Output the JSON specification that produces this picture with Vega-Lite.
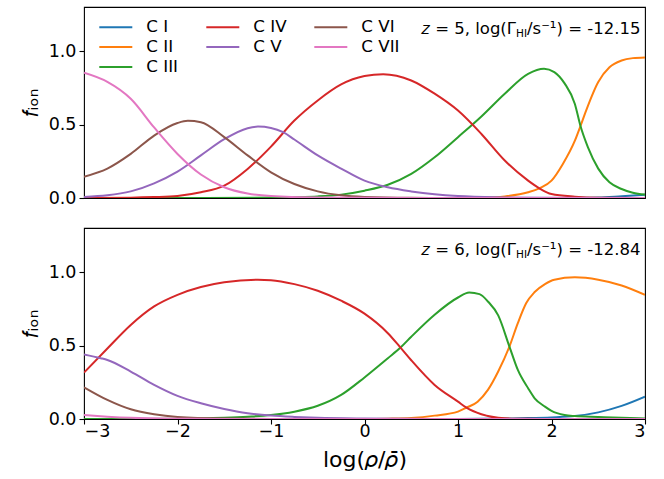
{
  "$schema": "https://vega.github.io/schema/vega-lite/v6.json",
  "padding": {"left": 18, "top": 6, "right": 12, "bottom": 5},
  "spacing": 19,
  "config": {
    "font": "DejaVu Sans",
    "view": {"stroke": "black", "strokeWidth": 1.1},
    "axis": {
      "labelFont": "DejaVu Sans", "labelFontSize": 17.5, "labelColor": "black",
      "tickColor": "black", "tickSize": 5, "tickWidth": 1.1, "domain": false, "grid": false,
      "titleFont": "DejaVu Sans", "titleFontSize": 22, "titleFontWeight": "normal", "titleColor": "black",
      "labelPadding": 3
    },
    "legend": {
      "orient": "none", "legendX": 20.8, "legendY": 9, "columns": 3, "direction": "horizontal",
      "symbolType": "M-1.65,0H1.65", "symbolSize": 400,
      "symbolStrokeWidth": 2, "labelFontSize": 16.7, "labelFont": "DejaVu Sans", "labelColor": "black",
      "labelOffset": 19.5, "columnPadding": 23, "rowPadding": 0, "offset": 0, "padding": 0
    },
    "text": {"font": "DejaVu Sans", "color": "black"}
  },
  "datasets": {
    "z5": [
      {"x": -3, "f": 0, "ion": "C I"}, {"x": -2, "f": 0, "ion": "C I"}, {"x": -1, "f": 0, "ion": "C I"}, {"x": 0, "f": 0, "ion": "C I"}, {"x": 1, "f": 0, "ion": "C I"}, {"x": 2, "f": 0, "ion": "C I"}, {"x": 2.25, "f": 0.001, "ion": "C I"}, {"x": 2.5, "f": 0.003, "ion": "C I"}, {"x": 2.75, "f": 0.012, "ion": "C I"}, {"x": 3, "f": 0.022, "ion": "C I"},
      {"x": -3, "f": 0, "ion": "C II"}, {"x": -1, "f": 0, "ion": "C II"}, {"x": 1, "f": 0, "ion": "C II"}, {"x": 1.25, "f": 0.002, "ion": "C II"}, {"x": 1.5, "f": 0.011, "ion": "C II"}, {"x": 1.75, "f": 0.039, "ion": "C II"}, {"x": 1.87, "f": 0.066, "ion": "C II"}, {"x": 2.0, "f": 0.118, "ion": "C II"}, {"x": 2.12, "f": 0.23, "ion": "C II"}, {"x": 2.25, "f": 0.39, "ion": "C II"}, {"x": 2.31, "f": 0.49, "ion": "C II"}, {"x": 2.37, "f": 0.595, "ion": "C II"}, {"x": 2.5, "f": 0.79, "ion": "C II"}, {"x": 2.62, "f": 0.89, "ion": "C II"}, {"x": 2.75, "f": 0.936, "ion": "C II"}, {"x": 2.87, "f": 0.952, "ion": "C II"}, {"x": 3, "f": 0.957, "ion": "C II"},
      {"x": -3, "f": 0, "ion": "C III"}, {"x": -2, "f": 0, "ion": "C III"}, {"x": -1, "f": 0.003, "ion": "C III"}, {"x": -0.75, "f": 0.006, "ion": "C III"}, {"x": -0.5, "f": 0.011, "ion": "C III"}, {"x": -0.25, "f": 0.023, "ion": "C III"}, {"x": 0, "f": 0.05, "ion": "C III"}, {"x": 0.25, "f": 0.09, "ion": "C III"}, {"x": 0.5, "f": 0.164, "ion": "C III"}, {"x": 0.75, "f": 0.277, "ion": "C III"}, {"x": 1.0, "f": 0.414, "ion": "C III"}, {"x": 1.25, "f": 0.555, "ion": "C III"}, {"x": 1.5, "f": 0.71, "ion": "C III"}, {"x": 1.75, "f": 0.845, "ion": "C III"}, {"x": 1.92, "f": 0.88, "ion": "C III"}, {"x": 2.03, "f": 0.857, "ion": "C III"}, {"x": 2.14, "f": 0.78, "ion": "C III"}, {"x": 2.25, "f": 0.64, "ion": "C III"}, {"x": 2.31, "f": 0.49, "ion": "C III"}, {"x": 2.39, "f": 0.345, "ion": "C III"}, {"x": 2.5, "f": 0.2, "ion": "C III"}, {"x": 2.62, "f": 0.107, "ion": "C III"}, {"x": 2.75, "f": 0.061, "ion": "C III"}, {"x": 2.87, "f": 0.036, "ion": "C III"}, {"x": 3, "f": 0.023, "ion": "C III"},
      {"x": -3, "f": 0, "ion": "C IV"}, {"x": -2.5, "f": 0.002, "ion": "C IV"}, {"x": -2.25, "f": 0.006, "ion": "C IV"}, {"x": -2.0, "f": 0.014, "ion": "C IV"}, {"x": -1.75, "f": 0.039, "ion": "C IV"}, {"x": -1.5, "f": 0.084, "ion": "C IV"}, {"x": -1.25, "f": 0.198, "ion": "C IV"}, {"x": -1.0, "f": 0.35, "ion": "C IV"}, {"x": -0.75, "f": 0.527, "ion": "C IV"}, {"x": -0.5, "f": 0.664, "ion": "C IV"}, {"x": -0.25, "f": 0.773, "ion": "C IV"}, {"x": 0, "f": 0.83, "ion": "C IV"}, {"x": 0.2, "f": 0.843, "ion": "C IV"}, {"x": 0.5, "f": 0.8, "ion": "C IV"}, {"x": 0.75, "f": 0.71, "ion": "C IV"}, {"x": 1.0, "f": 0.595, "ion": "C IV"}, {"x": 1.25, "f": 0.436, "ion": "C IV"}, {"x": 1.5, "f": 0.255, "ion": "C IV"}, {"x": 1.75, "f": 0.118, "ion": "C IV"}, {"x": 1.87, "f": 0.066, "ion": "C IV"}, {"x": 2.0, "f": 0.027, "ion": "C IV"}, {"x": 2.25, "f": 0.009, "ion": "C IV"}, {"x": 2.5, "f": 0.002, "ion": "C IV"}, {"x": 3, "f": 0, "ion": "C IV"},
      {"x": -3, "f": 0.007, "ion": "C V"}, {"x": -2.75, "f": 0.018, "ion": "C V"}, {"x": -2.5, "f": 0.045, "ion": "C V"}, {"x": -2.25, "f": 0.1, "ion": "C V"}, {"x": -2.0, "f": 0.18, "ion": "C V"}, {"x": -1.75, "f": 0.29, "ion": "C V"}, {"x": -1.5, "f": 0.4, "ion": "C V"}, {"x": -1.25, "f": 0.475, "ion": "C V"}, {"x": -1.14, "f": 0.486, "ion": "C V"}, {"x": -1.0, "f": 0.477, "ion": "C V"}, {"x": -0.87, "f": 0.448, "ion": "C V"}, {"x": -0.75, "f": 0.398, "ion": "C V"}, {"x": -0.5, "f": 0.29, "ion": "C V"}, {"x": -0.25, "f": 0.2, "ion": "C V"}, {"x": 0, "f": 0.118, "ion": "C V"}, {"x": 0.25, "f": 0.073, "ion": "C V"}, {"x": 0.5, "f": 0.045, "ion": "C V"}, {"x": 0.75, "f": 0.025, "ion": "C V"}, {"x": 1.0, "f": 0.013, "ion": "C V"}, {"x": 1.5, "f": 0.004, "ion": "C V"}, {"x": 2, "f": 0.001, "ion": "C V"}, {"x": 3, "f": 0, "ion": "C V"},
      {"x": -3, "f": 0.145, "ion": "C VI"}, {"x": -2.75, "f": 0.2, "ion": "C VI"}, {"x": -2.5, "f": 0.3, "ion": "C VI"}, {"x": -2.25, "f": 0.425, "ion": "C VI"}, {"x": -2.0, "f": 0.51, "ion": "C VI"}, {"x": -1.89, "f": 0.525, "ion": "C VI"}, {"x": -1.75, "f": 0.516, "ion": "C VI"}, {"x": -1.5, "f": 0.414, "ion": "C VI"}, {"x": -1.25, "f": 0.29, "ion": "C VI"}, {"x": -1.0, "f": 0.175, "ion": "C VI"}, {"x": -0.75, "f": 0.095, "ion": "C VI"}, {"x": -0.5, "f": 0.045, "ion": "C VI"}, {"x": -0.25, "f": 0.018, "ion": "C VI"}, {"x": 0, "f": 0.007, "ion": "C VI"}, {"x": 0.5, "f": 0.001, "ion": "C VI"}, {"x": 1, "f": 0, "ion": "C VI"}, {"x": 3, "f": 0, "ion": "C VI"},
      {"x": -3, "f": 0.852, "ion": "C VII"}, {"x": -2.75, "f": 0.79, "ion": "C VII"}, {"x": -2.5, "f": 0.675, "ion": "C VII"}, {"x": -2.25, "f": 0.48, "ion": "C VII"}, {"x": -2.0, "f": 0.3, "ion": "C VII"}, {"x": -1.75, "f": 0.16, "ion": "C VII"}, {"x": -1.5, "f": 0.073, "ion": "C VII"}, {"x": -1.25, "f": 0.03, "ion": "C VII"}, {"x": -1.0, "f": 0.013, "ion": "C VII"}, {"x": -0.5, "f": 0.003, "ion": "C VII"}, {"x": 0, "f": 0.001, "ion": "C VII"}, {"x": 1, "f": 0, "ion": "C VII"}, {"x": 3, "f": 0, "ion": "C VII"}
    ],
    "z6": [
      {"x": -3, "f": 0, "ion": "C I"}, {"x": -1, "f": 0, "ion": "C I"}, {"x": 1, "f": 0, "ion": "C I"}, {"x": 1.5, "f": 0.003, "ion": "C I"}, {"x": 1.75, "f": 0.006, "ion": "C I"}, {"x": 2.0, "f": 0.011, "ion": "C I"}, {"x": 2.25, "f": 0.02, "ion": "C I"}, {"x": 2.5, "f": 0.045, "ion": "C I"}, {"x": 2.75, "f": 0.089, "ion": "C I"}, {"x": 3, "f": 0.152, "ion": "C I"},
      {"x": -3, "f": 0, "ion": "C II"}, {"x": -1, "f": 0, "ion": "C II"}, {"x": 0, "f": 0, "ion": "C II"}, {"x": 0.25, "f": 0.002, "ion": "C II"}, {"x": 0.5, "f": 0.007, "ion": "C II"}, {"x": 0.75, "f": 0.023, "ion": "C II"}, {"x": 1.0, "f": 0.05, "ion": "C II"}, {"x": 1.09, "f": 0.077, "ion": "C II"}, {"x": 1.21, "f": 0.118, "ion": "C II"}, {"x": 1.32, "f": 0.198, "ion": "C II"}, {"x": 1.43, "f": 0.323, "ion": "C II"}, {"x": 1.55, "f": 0.493, "ion": "C II"}, {"x": 1.64, "f": 0.652, "ion": "C II"}, {"x": 1.73, "f": 0.789, "ion": "C II"}, {"x": 1.82, "f": 0.864, "ion": "C II"}, {"x": 1.93, "f": 0.918, "ion": "C II"}, {"x": 2.03, "f": 0.948, "ion": "C II"}, {"x": 2.25, "f": 0.964, "ion": "C II"}, {"x": 2.5, "f": 0.948, "ion": "C II"}, {"x": 2.75, "f": 0.909, "ion": "C II"}, {"x": 3, "f": 0.845, "ion": "C II"},
      {"x": -3, "f": 0, "ion": "C III"}, {"x": -2.5, "f": 0.0005, "ion": "C III"}, {"x": -2, "f": 0.002, "ion": "C III"}, {"x": -1.5, "f": 0.009, "ion": "C III"}, {"x": -1.25, "f": 0.016, "ion": "C III"}, {"x": -1.0, "f": 0.027, "ion": "C III"}, {"x": -0.75, "f": 0.05, "ion": "C III"}, {"x": -0.5, "f": 0.09, "ion": "C III"}, {"x": -0.25, "f": 0.164, "ion": "C III"}, {"x": 0, "f": 0.283, "ion": "C III"}, {"x": 0.25, "f": 0.414, "ion": "C III"}, {"x": 0.385, "f": 0.486, "ion": "C III"}, {"x": 0.5, "f": 0.56, "ion": "C III"}, {"x": 0.75, "f": 0.71, "ion": "C III"}, {"x": 1.0, "f": 0.827, "ion": "C III"}, {"x": 1.12, "f": 0.861, "ion": "C III"}, {"x": 1.23, "f": 0.85, "ion": "C III"}, {"x": 1.32, "f": 0.8, "ion": "C III"}, {"x": 1.43, "f": 0.705, "ion": "C III"}, {"x": 1.55, "f": 0.493, "ion": "C III"}, {"x": 1.64, "f": 0.334, "ion": "C III"}, {"x": 1.75, "f": 0.209, "ion": "C III"}, {"x": 1.82, "f": 0.141, "ion": "C III"}, {"x": 1.93, "f": 0.084, "ion": "C III"}, {"x": 2.0, "f": 0.055, "ion": "C III"}, {"x": 2.14, "f": 0.027, "ion": "C III"}, {"x": 2.25, "f": 0.02, "ion": "C III"}, {"x": 2.5, "f": 0.014, "ion": "C III"}, {"x": 2.75, "f": 0.008, "ion": "C III"}, {"x": 3, "f": 0.004, "ion": "C III"},
      {"x": -3, "f": 0.316, "ion": "C IV"}, {"x": -2.75, "f": 0.48, "ion": "C IV"}, {"x": -2.5, "f": 0.64, "ion": "C IV"}, {"x": -2.25, "f": 0.766, "ion": "C IV"}, {"x": -2.0, "f": 0.845, "ion": "C IV"}, {"x": -1.75, "f": 0.898, "ion": "C IV"}, {"x": -1.5, "f": 0.93, "ion": "C IV"}, {"x": -1.14, "f": 0.948, "ion": "C IV"}, {"x": -1.0, "f": 0.945, "ion": "C IV"}, {"x": -0.75, "f": 0.918, "ion": "C IV"}, {"x": -0.5, "f": 0.873, "ion": "C IV"}, {"x": -0.25, "f": 0.805, "ion": "C IV"}, {"x": 0, "f": 0.717, "ion": "C IV"}, {"x": 0.25, "f": 0.584, "ion": "C IV"}, {"x": 0.385, "f": 0.486, "ion": "C IV"}, {"x": 0.5, "f": 0.4, "ion": "C IV"}, {"x": 0.75, "f": 0.232, "ion": "C IV"}, {"x": 1.0, "f": 0.118, "ion": "C IV"}, {"x": 1.09, "f": 0.077, "ion": "C IV"}, {"x": 1.25, "f": 0.032, "ion": "C IV"}, {"x": 1.5, "f": 0.005, "ion": "C IV"}, {"x": 1.75, "f": 0.001, "ion": "C IV"}, {"x": 2, "f": 0, "ion": "C IV"}, {"x": 3, "f": 0, "ion": "C IV"},
      {"x": -3, "f": 0.44, "ion": "C V"}, {"x": -2.82, "f": 0.414, "ion": "C V"}, {"x": -2.75, "f": 0.402, "ion": "C V"}, {"x": -2.5, "f": 0.323, "ion": "C V"}, {"x": -2.25, "f": 0.232, "ion": "C V"}, {"x": -2.0, "f": 0.157, "ion": "C V"}, {"x": -1.75, "f": 0.107, "ion": "C V"}, {"x": -1.5, "f": 0.068, "ion": "C V"}, {"x": -1.25, "f": 0.039, "ion": "C V"}, {"x": -1.0, "f": 0.023, "ion": "C V"}, {"x": -0.75, "f": 0.014, "ion": "C V"}, {"x": -0.5, "f": 0.008, "ion": "C V"}, {"x": 0, "f": 0.003, "ion": "C V"}, {"x": 0.5, "f": 0.001, "ion": "C V"}, {"x": 1, "f": 0, "ion": "C V"}, {"x": 3, "f": 0, "ion": "C V"},
      {"x": -3, "f": 0.216, "ion": "C VI"}, {"x": -2.75, "f": 0.13, "ion": "C VI"}, {"x": -2.5, "f": 0.066, "ion": "C VI"}, {"x": -2.25, "f": 0.032, "ion": "C VI"}, {"x": -2.0, "f": 0.014, "ion": "C VI"}, {"x": -1.5, "f": 0.003, "ion": "C VI"}, {"x": -1, "f": 0.0005, "ion": "C VI"}, {"x": 0, "f": 0, "ion": "C VI"}, {"x": 3, "f": 0, "ion": "C VI"},
      {"x": -3, "f": 0.027, "ion": "C VII"}, {"x": -2.75, "f": 0.016, "ion": "C VII"}, {"x": -2.5, "f": 0.008, "ion": "C VII"}, {"x": -2.0, "f": 0.002, "ion": "C VII"}, {"x": -1.5, "f": 0.0005, "ion": "C VII"}, {"x": 0, "f": 0, "ion": "C VII"}, {"x": 3, "f": 0, "ion": "C VII"}
    ]
  },
  "resolve": {"scale": {"color": "independent"}, "legend": {"color": "independent"}},
  "vconcat": [
    {
      "width": 561, "height": 191,
      "layer": [
        {
          "data": {"name": "z5"},
          "mark": {"type": "line", "strokeWidth": 2, "interpolate": "monotone", "clip": true},
          "encoding": {
            "x": {"field": "x", "type": "quantitative", "scale": {"domain": [-3, 3], "nice": false, "zero": false}, "axis": null},
            "y": {"field": "f", "type": "quantitative", "scale": {"domain": [0, 1.3], "nice": false}, "axis": {"values": [0, 0.5, 1], "format": ".1f", "title": "𝑓ᵢₒₙ", "titlePadding": 6}},
            "color": {"field": "ion", "type": "nominal",
              "scale": {"domain": ["C I", "C IV", "C VI", "C II", "C V", "C VII", "C III"], "range": ["#1f77b4", "#d62728", "#8c564b", "#ff7f0e", "#9467bd", "#e377c2", "#2ca02c"]},
              "legend": {"title": null}}
          }
        },
        {
          "data": {"values": [{}]},
          "mark": {"type": "text", "align": "right", "baseline": "alphabetic", "fontSize": 16.5, "dx": -129},
          "encoding": {"x": {"datum": 3, "type": "quantitative"}, "y": {"datum": 1.118, "type": "quantitative"}, "text": {"value": "𝑧 = 5, log(Γ"}}
        },
        {
          "data": {"values": [{}]},
          "mark": {"type": "text", "align": "left", "baseline": "alphabetic", "fontSize": 10.5, "dx": -129, "dy": 3.5},
          "encoding": {"x": {"datum": 3, "type": "quantitative"}, "y": {"datum": 1.118, "type": "quantitative"}, "text": {"value": "HI"}}
        },
        {
          "data": {"values": [{}]},
          "mark": {"type": "text", "align": "left", "baseline": "alphabetic", "fontSize": 16.5, "dx": -118},
          "encoding": {"x": {"datum": 3, "type": "quantitative"}, "y": {"datum": 1.118, "type": "quantitative"}, "text": {"value": "/s⁻¹) = -12.15"}}
        }
      ]
    },
    {
      "width": 561, "height": 191,
      "layer": [
        {
          "data": {"name": "z6"},
          "mark": {"type": "line", "strokeWidth": 2, "interpolate": "monotone", "clip": true},
          "encoding": {
            "x": {"field": "x", "type": "quantitative", "scale": {"domain": [-3, 3], "nice": false, "zero": false}, "axis": {"values": [-3, -2, -1, 0, 1, 2, 3], "format": "d", "title": "log(𝜌/𝜌̄)", "titlePadding": 10, "labelPadding": -2}},
            "y": {"field": "f", "type": "quantitative", "scale": {"domain": [0, 1.3], "nice": false}, "axis": {"values": [0, 0.5, 1], "format": ".1f", "title": "𝑓ᵢₒₙ", "titlePadding": 6}},
            "color": {"field": "ion", "type": "nominal",
              "scale": {"domain": ["C I", "C II", "C III", "C IV", "C V", "C VI", "C VII"], "range": ["#1f77b4", "#ff7f0e", "#2ca02c", "#d62728", "#9467bd", "#8c564b", "#e377c2"]},
              "legend": null}
          }
        },
        {
          "data": {"values": [{}]},
          "mark": {"type": "text", "align": "right", "baseline": "alphabetic", "fontSize": 16.5, "dx": -129},
          "encoding": {"x": {"datum": 3, "type": "quantitative"}, "y": {"datum": 1.118, "type": "quantitative"}, "text": {"value": "𝑧 = 6, log(Γ"}}
        },
        {
          "data": {"values": [{}]},
          "mark": {"type": "text", "align": "left", "baseline": "alphabetic", "fontSize": 10.5, "dx": -129, "dy": 3.5},
          "encoding": {"x": {"datum": 3, "type": "quantitative"}, "y": {"datum": 1.118, "type": "quantitative"}, "text": {"value": "HI"}}
        },
        {
          "data": {"values": [{}]},
          "mark": {"type": "text", "align": "left", "baseline": "alphabetic", "fontSize": 16.5, "dx": -118},
          "encoding": {"x": {"datum": 3, "type": "quantitative"}, "y": {"datum": 1.118, "type": "quantitative"}, "text": {"value": "/s⁻¹) = -12.84"}}
        }
      ]
    }
  ]
}
